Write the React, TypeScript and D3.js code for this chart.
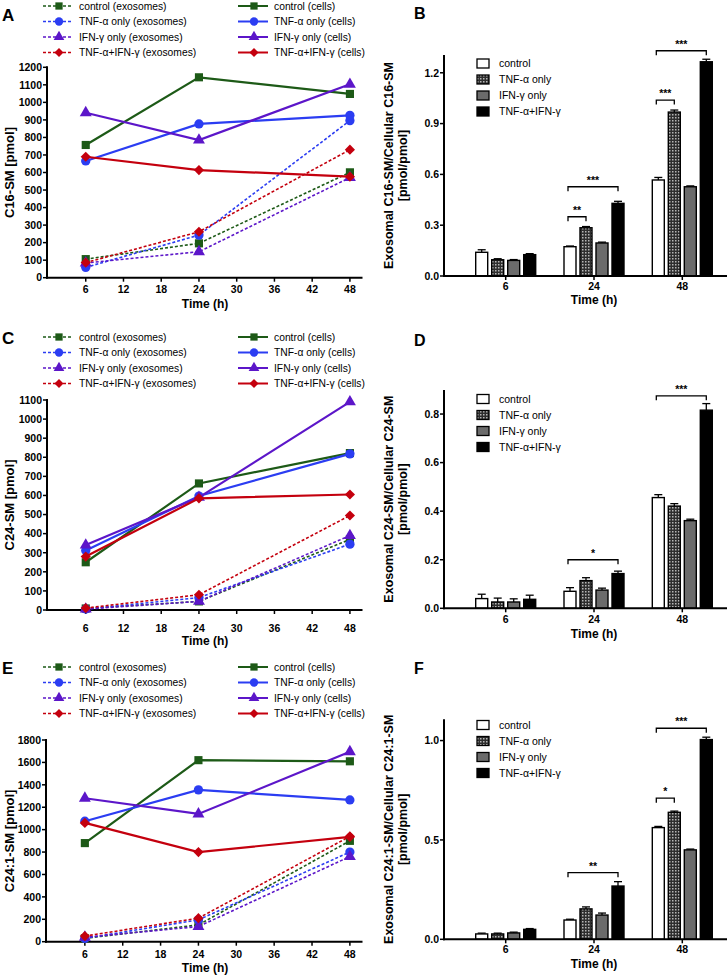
import React from 'react';
import * as d3 from 'd3';

// ---------- DATA ----------
const times = [6, 24, 48];
const xTickValues = [6, 12, 18, 24, 30, 36, 42, 48];
const groupNames = ['control', 'TNF-α only', 'IFN-γ only', 'TNF-α+IFN-γ'];
const timeLabels = ['6', '24', '48'];

// line panels: rows = control, TNF, IFN, TNF+IFN ; cols = 6h, 24h, 48h
const c16Exosomes = [[106, 196, 601], [59, 243, 896], [84, 148, 571], [86, 262, 730]];
const c16Cells = [[757, 1143, 1048], [666, 877, 926], [941, 785, 1103], [690, 614, 576]];
const c24Exosomes = [[8, 45, 370], [5, 65, 345], [5, 45, 390], [10, 80, 495]];
const c24Cells = [[250, 663, 822], [312, 597, 818], [340, 590, 1090], [280, 585, 605]];
const c241Exosomes = [[30, 150, 900], [30, 195, 800], [40, 135, 760], [50, 210, 940]];
const c241Cells = [[880, 1620, 1610], [1075, 1355, 1265], [1280, 1140, 1695], [1060, 800, 935]];

// bar panels: rows = 6h, 24h, 48h ; cols = control, TNF, IFN, TNF+IFN
const c16Ratio = [[0.140, 0.096, 0.092, 0.126], [0.173, 0.285, 0.195, 0.429], [0.567, 0.968, 0.527, 1.265]];
const c16RatioErr = [[0.015, 0.006, 0.005, 0.006], [0.004, 0.007, 0.005, 0.012], [0.015, 0.012, 0.005, 0.015]];
const c24Ratio = [[0.040, 0.026, 0.026, 0.037], [0.070, 0.114, 0.075, 0.143], [0.456, 0.421, 0.361, 0.816]];
const c24RatioErr = [[0.018, 0.016, 0.013, 0.017], [0.015, 0.012, 0.008, 0.010], [0.012, 0.010, 0.006, 0.027]];
const c241Ratio = [[0.027, 0.027, 0.032, 0.050], [0.097, 0.153, 0.122, 0.268], [0.562, 0.639, 0.450, 1.005]];
const c241RatioErr = [[0.004, 0.004, 0.004, 0.004], [0.004, 0.010, 0.010, 0.022], [0.006, 0.006, 0.004, 0.012]];

const c16Sig = [
  { group: 1, from: 0, to: 1, level: 0.35, label: '**' },
  { group: 1, from: 0, to: 3, level: 0.527, label: '***' },
  { group: 2, from: 0, to: 1, level: 1.039, label: '***' },
  { group: 2, from: 0, to: 3, level: 1.33, label: '***' },
];
const c24Sig = [
  { group: 1, from: 0, to: 3, level: 0.2, label: '*' },
  { group: 2, from: 0, to: 3, level: 0.875, label: '***' },
];
const c241Sig = [
  { group: 1, from: 0, to: 3, level: 0.335, label: '**' },
  { group: 2, from: 0, to: 1, level: 0.71, label: '*' },
  { group: 2, from: 0, to: 3, level: 1.062, label: '***' },
];

const c16Ticks = [0, 0.3, 0.6, 0.9, 1.2];
const c24Ticks = [0, 0.2, 0.4, 0.6, 0.8];
const c241Ticks = [0, 0.5, 1.0];

// ---------- STYLE ----------
const FONT = '"Liberation Sans", Arial, Helvetica, sans-serif';
const lineColors = ['#1d5a17', '#2b3df2', '#5c16c9', '#c4000e'];
const symbols = [d3.symbolSquare, d3.symbolCircle, d3.symbolTriangle, d3.symbolDiamond2];
const symbolSizes = [66, 68, 62, 66];
const barFills = ['#ffffff', 'url(#checker)', '#6b6b6b', '#000000'];

function markerPath(i: number, scale = 1) {
  return d3.symbol().type(symbols[i]).size(symbolSizes[i] * scale)() as string;
}

type LineProps = {
  letter: string; letterY: number; legendY: number; legendStep: number;
  yLabel: string; yMax: number; yStep: number; yTopPx: number; yBottomPx: number;
  axisX: number; exo: number[][]; cells: number[][]; tickY: number; titleY: number;
};

function LinePanel(p: LineProps) {
  const x = d3.scaleLinear().domain([0, 50]).range([p.axisX + 1, 362.5]);
  const y = d3.scaleLinear().domain([0, p.yMax]).range([p.yBottomPx, p.yTopPx]);
  const yTicks = d3.range(0, p.yMax + 0.001, p.yStep);
  const line = d3.line<number>().x((_, i) => x(times[i])).y((v) => y(v));
  const lx1 = 43, lx2 = 72, lm = 59, lt = 79;
  const rx1 = 238, rx2 = 268, rm = 254, rt = 274;
  return (
    <g>
      <text x={2} y={p.letterY} fontFamily={FONT} fontWeight="bold" fontSize={17}>{p.letter}</text>
      {groupNames.map((n, i) => {
        const yy = p.legendY + i * p.legendStep;
        return (
          <g key={'leg' + i}>
            <line x1={lx1} x2={lx2} y1={yy} y2={yy} stroke={lineColors[i]} strokeWidth={1.6} strokeDasharray="3,2" />
            <path d={markerPath(i, 0.8)} transform={`translate(${lm},${yy})`} fill={lineColors[i]} />
            <text x={lt} y={yy} dy="0.35em" fontFamily={FONT} fontSize={10.3}>{n + ' (exosomes)'}</text>
            <line x1={rx1} x2={rx2} y1={yy} y2={yy} stroke={lineColors[i]} strokeWidth={2} />
            <path d={markerPath(i, 0.8)} transform={`translate(${rm},${yy})`} fill={lineColors[i]} />
            <text x={rt} y={yy} dy="0.35em" fontFamily={FONT} fontSize={10.3}>{n + ' (cells)'}</text>
          </g>
        );
      })}
      {/* axes */}
      <line x1={p.axisX} x2={p.axisX} y1={y(p.yMax) - 1} y2={p.yBottomPx + 1} stroke="#000" strokeWidth={2} />
      <line x1={p.axisX - 1} x2={362.5} y1={p.yBottomPx} y2={p.yBottomPx} stroke="#000" strokeWidth={2} />
      {yTicks.map((t) => (
        <g key={'yt' + t}>
          <line x1={p.axisX - 4} x2={p.axisX} y1={y(t)} y2={y(t)} stroke="#000" strokeWidth={1.5} />
          <text x={p.axisX - 5} y={y(t)} dy="0.36em" textAnchor="end" fontFamily={FONT} fontWeight="bold" fontSize={10.5}>{t}</text>
        </g>
      ))}
      {xTickValues.map((t) => (
        <g key={'xt' + t}>
          <line x1={x(t)} x2={x(t)} y1={p.yBottomPx} y2={p.yBottomPx + 4} stroke="#000" strokeWidth={1.5} />
          <text x={x(t)} y={p.tickY} textAnchor="middle" fontFamily={FONT} fontWeight="bold" fontSize={10.5}>{t}</text>
        </g>
      ))}
      <text x={205} y={p.titleY} textAnchor="middle" fontFamily={FONT} fontWeight="bold" fontSize={12}>Time (h)</text>
      <text transform={`translate(14,${(p.yTopPx + p.yBottomPx) / 2}) rotate(-90)`} textAnchor="middle" fontFamily={FONT} fontWeight="bold" fontSize={13}>{p.yLabel}</text>
      {/* series */}
      {p.exo.map((s, i) => (
        <g key={'ex' + i}>
          <path d={line(s) as string} fill="none" stroke={lineColors[i]} strokeWidth={1.6} strokeDasharray="3,2" />
          {s.map((v, j) => <path key={j} d={markerPath(i)} transform={`translate(${x(times[j])},${y(v)})`} fill={lineColors[i]} />)}
        </g>
      ))}
      {p.cells.map((s, i) => (
        <g key={'ce' + i}>
          <path d={line(s) as string} fill="none" stroke={lineColors[i]} strokeWidth={2.2} />
          {s.map((v, j) => <path key={j} d={markerPath(i)} transform={`translate(${x(times[j])},${y(v)})`} fill={lineColors[i]} />)}
        </g>
      ))}
    </g>
  );
}

type Sig = { group: number; from: number; to: number; level: number; label: string };
type BarProps = {
  letter: string; letterY: number; legendY: number; yLabel: string; yMax: number;
  yTopPx: number; yBottomPx: number; values: number[][]; errs: number[][]; ticks: number[];
  sig: Sig[]; tickY: number; titleY: number;
};

function BarPanel(p: BarProps) {
  const axisX = 444;
  const gx = d3.scalePoint<string>().domain(timeLabels).range([505.7, 682.3]);
  const inner = d3.scaleBand<number>().domain([0, 1, 2, 3]).range([-32, 32]).paddingInner(0.25).paddingOuter(0.125);
  const y = d3.scaleLinear().domain([0, p.yMax]).range([p.yBottomPx, p.yTopPx]);
  const bw = inner.bandwidth();
  const cx = (g: number, k: number) => (gx(timeLabels[g]) as number) + (inner(k) as number) + bw / 2;
  const [l1, l2] = p.yLabel.split('\n');
  const midY = (p.yTopPx + p.yBottomPx) / 2;
  return (
    <g>
      <text x={414} y={p.letterY} fontFamily={FONT} fontWeight="bold" fontSize={16}>{p.letter}</text>
      <text transform={`translate(389,${midY}) rotate(-90)`} textAnchor="middle" fontFamily={FONT} fontWeight="bold" fontSize={12.5}>
        <tspan x={0} dy="0.35em">{l1}</tspan>
      </text>
      <text transform={`translate(403,${midY}) rotate(-90)`} textAnchor="middle" fontFamily={FONT} fontWeight="bold" fontSize={12.5}>
        <tspan x={0} dy="0.35em">{l2}</tspan>
      </text>
      {/* bars */}
      {p.values.map((row, g) => row.map((v, k) => {
        const x0 = (gx(timeLabels[g]) as number) + (inner(k) as number);
        const top = y(v);
        const et = y(v + p.errs[g][k]);
        return (
          <g key={`b${g}-${k}`}>
            <line x1={x0 + bw / 2} x2={x0 + bw / 2} y1={top} y2={et} stroke="#000" strokeWidth={1.3} />
            <line x1={x0 + bw / 2 - 4} x2={x0 + bw / 2 + 4} y1={et} y2={et} stroke="#000" strokeWidth={1.3} />
            <rect x={x0} y={top} width={bw} height={p.yBottomPx - top} fill={barFills[k]} stroke="#000" strokeWidth={1.4} />
          </g>
        );
      }))}
      {/* axes */}
      <line x1={axisX} x2={axisX} y1={p.yTopPx} y2={p.yBottomPx + 1} stroke="#000" strokeWidth={2} />
      <line x1={axisX - 1} x2={727} y1={p.yBottomPx} y2={p.yBottomPx} stroke="#000" strokeWidth={2} />
      {p.ticks.map((t) => (
        <g key={'t' + t}>
          <line x1={axisX - 4} x2={axisX} y1={y(t)} y2={y(t)} stroke="#000" strokeWidth={1.5} />
          <text x={axisX - 5} y={y(t)} dy="0.36em" textAnchor="end" fontFamily={FONT} fontWeight="bold" fontSize={10.5}>{t.toFixed(1)}</text>
        </g>
      ))}
      {timeLabels.map((t) => (
        <g key={'x' + t}>
          <line x1={gx(t)} x2={gx(t)} y1={p.yBottomPx} y2={p.yBottomPx + 4} stroke="#000" strokeWidth={1.5} />
          <text x={gx(t)} y={p.tickY} textAnchor="middle" fontFamily={FONT} fontWeight="bold" fontSize={10.5}>{t}</text>
        </g>
      ))}
      <text x={594} y={p.titleY} textAnchor="middle" fontFamily={FONT} fontWeight="bold" fontSize={12}>Time (h)</text>
      {/* legend */}
      {groupNames.map((n, i) => {
        const yy = p.legendY + i * 16;
        return (
          <g key={'lg' + i}>
            <rect x={477} y={yy - 4.5} width={12} height={9} fill={barFills[i]} stroke="#000" strokeWidth={1.3} />
            <text x={499} y={yy} dy="0.35em" fontFamily={FONT} fontSize={10.5}>{n}</text>
          </g>
        );
      })}
      {/* significance */}
      {p.sig.map((s, i) => {
        const a = cx(s.group, s.from) - 2, b = cx(s.group, s.to);
        const yy = y(s.level);
        return (
          <g key={'s' + i}>
            <path d={`M${a},${yy + 4.5}V${yy}H${b}V${yy + 4.5}`} fill="none" stroke="#000" strokeWidth={1.3} />
            <text x={(a + b) / 2} y={yy - 3} textAnchor="middle" fontFamily={FONT} fontWeight="bold" fontSize={10.5}>{s.label}</text>
          </g>
        );
      })}
    </g>
  );
}

export default function App() {
  return (
    <svg width={728} height={976} style={{ position: 'absolute', left: 0, top: 0, background: '#fff' }}>
      <defs>
        <pattern id="checker" width={3} height={3} patternUnits="userSpaceOnUse">
          <rect width={3} height={3} fill="#2e2e2e" />
          <rect width={1.5} height={1.5} fill="#b5b5b5" />
        </pattern>
      </defs>
      <rect width={728} height={976} fill="#fff" />
      <LinePanel letter="A" letterY={21} legendY={6} legendStep={15.5} yLabel="C16-SM [pmol]" yMax={1200} yStep={100}
        yTopPx={67.3} yBottomPx={277.7} axisX={47} exo={c16Exosomes} cells={c16Cells} tickY={292.5} titleY={308} />
      <LinePanel letter="C" letterY={344} legendY={337} legendStep={15.5} yLabel="C24-SM [pmol]" yMax={1100} yStep={100}
        yTopPx={400} yBottomPx={610} axisX={47} exo={c24Exosomes} cells={c24Cells} tickY={631.5} titleY={645} />
      <LinePanel letter="E" letterY={674} legendY={667} legendStep={15.5} yLabel="C24:1-SM [pmol]" yMax={1800} yStep={200}
        yTopPx={740} yBottomPx={941.7} axisX={46} exo={c241Exosomes} cells={c241Cells} tickY={958} titleY={972} />
      <BarPanel letter="B" letterY={19} legendY={63.5} yLabel={'Exosomal C16-SM/Cellular C16-SM\n[pmol/pmol]'} yMax={1.305}
        yTopPx={55} yBottomPx={276} values={c16Ratio} errs={c16RatioErr} ticks={c16Ticks} sig={c16Sig} tickY={290} titleY={304} />
      <BarPanel letter="D" letterY={346} legendY={399} yLabel={'Exosomal C24-SM/Cellular C24-SM\n[pmol/pmol]'} yMax={0.899}
        yTopPx={390} yBottomPx={608.3} values={c24Ratio} errs={c24RatioErr} ticks={c24Ticks} sig={c24Sig} tickY={623} titleY={638} />
      <BarPanel letter="F" letterY={674} legendY={725} yLabel={'Exosomal C24:1-SM/Cellular C24:1-SM\n[pmol/pmol]'} yMax={1.107}
        yTopPx={719.3} yBottomPx={939.3} values={c241Ratio} errs={c241RatioErr} ticks={c241Ticks} sig={c241Sig} tickY={953} titleY={968} />
    </svg>
  );
}
